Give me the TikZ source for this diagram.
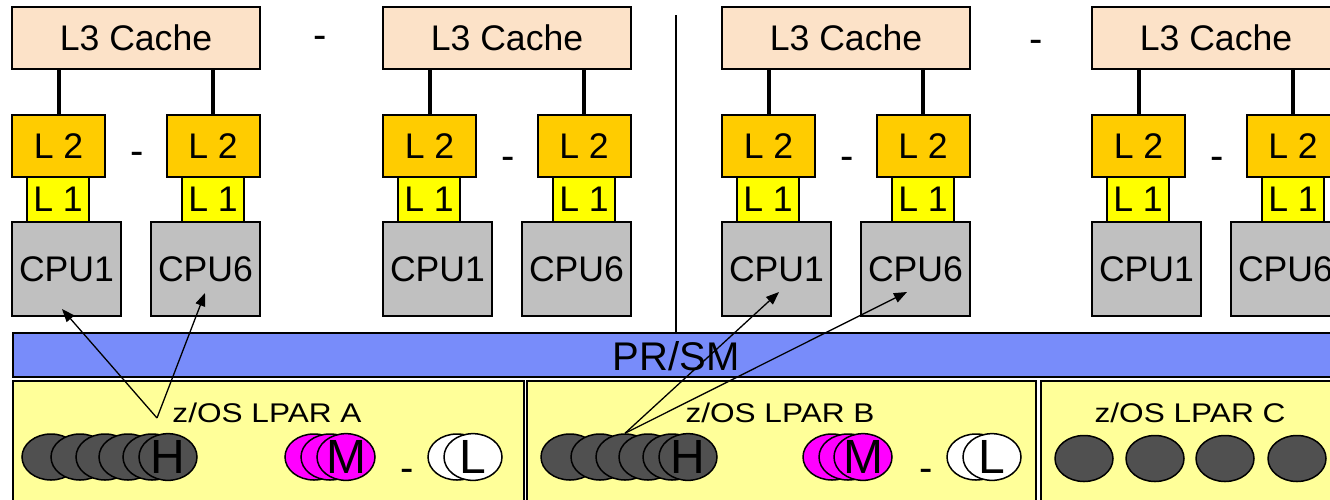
\documentclass[tikz,border=0pt]{standalone}
\usepackage{fontspec}
\setmainfont{Liberation Sans}
\newfontfamily\etire[FakeStretch=1.17]{Liberation Sans}
\usepackage{tikz}
\usetikzlibrary{arrows.meta, shapes.geometric}
\usepackage{xcolor}
\definecolor{peche}{RGB}{252,226,200}
\definecolor{dore}{RGB}{255,204,0}
\definecolor{jaune}{RGB}{255,255,0}
\definecolor{gris}{RGB}{192,192,192}
\definecolor{bleu}{RGB}{120,140,250}
\definecolor{jaunepale}{RGB}{255,255,153}
\definecolor{grisfonce}{RGB}{80,80,80}
\definecolor{rose}{RGB}{255,0,255}
\newcommand{\taille}[1]{\fontsize{#1}{#1}\selectfont}

\begin{document}
\begin{tikzpicture}[x=1pt, y=-1pt,
	boite/.style={draw=black, line width=2pt, inner sep=0pt, font=\taille{35.6}},
	cachetrois/.style={boite, fill=peche, minimum width=248pt, minimum height=62pt},
	cachedeux/.style={boite, fill=dore, minimum width=93pt, minimum height=62pt},
	cacheun/.style={boite, fill=jaune, minimum width=62pt, minimum height=45pt},
	proc/.style={boite, fill=gris, minimum width=109pt, minimum height=94pt},
	lpar/.style={draw=black, line width=1.8pt, fill=jaunepale, inner sep=0pt, anchor=north west, minimum height=130pt},
	tache/.style={ellipse, draw=black, line width=1.5pt, inner sep=0pt, minimum width=58pt, minimum height=46pt, font=\taille{48}},
	tiret/.style={font=\taille{40}, inner sep=0pt},
	fleche/.style={-{Triangle[length=13pt,width=10pt]}, line width=1.3pt},
	lien/.style={line width=4pt}]
	\useasboundingbox (0,0) rectangle (1330,499);
	\clip (0,0) rectangle (1330,499);
	% Caches L3, L2, L1 et processeurs
	\foreach \g/\xo/\yt in {1/12/154, 2/383/159, 3/722/159, 4/1092/159} {
		\node[cachetrois] (l3-\g) at (\xo+124,38) {L3 Cache};
		\node[cachedeux] (l2a-\g) at (\xo+46.5,146) {L 2};
		\node[cachedeux] (l2b-\g) at (\xo+201,146) {L 2};
		\node[cacheun] (l1a-\g) at (\xo+46,199.5) {L 1};
		\node[cacheun] (l1b-\g) at (\xo+201,199.5) {L 1};
		\node[proc] (cpua-\g) at (\xo+54.5,269) {CPU1};
		\node[proc] (cpub-\g) at (\xo+193.5,269) {CPU6};
		\draw[lien] (l2a-\g.north) -- (l2a-\g.north |- l3-\g.south);
		\draw[lien] (l2b-\g.north) -- (l2b-\g.north |- l3-\g.south);
		\node[tiret] (t2-\g) at (\xo+125,\yt+4.6) {-};
	}
	\node[tiret] (t3-1) at (320,42.6) {-};
	\node[tiret] (t3-2) at (1036,46.6) {-};
	% PR/SM et partitions
	\node[draw=black, line width=1.8pt, fill=bleu, inner sep=0pt, anchor=north west,
		minimum width=1340pt, minimum height=44pt] (prsm) at (12,332) {};
	\node[font=\taille{40}] (prsm-txt) at (676,356) {PR/SM};
	\coordinate (sep) at (676,15);
	\draw[line width=1.8pt] (sep) -- (sep |- prsm.north);
	\node[lpar, minimum width=511pt] (lparA) at (12,380) {};
	\node[lpar, minimum width=509pt] (lparB) at (526,380) {};
	\node[lpar, minimum width=400pt] (lparC) at (1040,380) {};
	\node[font=\etire\taille{27}] (txtA) at (267,413) {z/OS LPAR A};
	\node[font=\etire\taille{27}] (txtB) at (780,413) {z/OS LPAR B};
	\node[font=\etire\taille{27}] (txtC) at (1190,413) {z/OS LPAR C};
	% LPAR A
	\foreach \i/\cx in {1/51, 2/80, 3/105, 4/128, 5/152}
		\node[tache, fill=grisfonce] (hA-\i) at (\cx,457) {};
	\node[tache, fill=grisfonce] (hA-6) at (168,457) {H};
	\node[tache, fill=rose] (mA-1) at (314,457) {};
	\node[tache, fill=rose] (mA-2) at (330,457) {};
	\node[tache, fill=rose] (mA-3) at (346,457) {M};
	\node[tiret] (tA) at (407,475) {-};
	\node[tache, fill=white] (bA-1) at (457,457) {};
	\node[tache, fill=white] (bA-2) at (473,457) {L};
	% LPAR B
	\foreach \i/\cx in {1/570, 2/600, 3/625, 4/648, 5/672}
		\node[tache, fill=grisfonce] (hB-\i) at (\cx,457) {};
	\node[tache, fill=grisfonce] (hB-6) at (688,457) {H};
	\node[tache, fill=rose] (mB-1) at (832,457) {};
	\node[tache, fill=rose] (mB-2) at (848,457) {};
	\node[tache, fill=rose] (mB-3) at (863,457) {M};
	\node[tiret] (tB) at (926,475) {-};
	\node[tache, fill=white] (bB-1) at (976,457) {};
	\node[tache, fill=white] (bB-2) at (992,457) {L};
	% LPAR C
	\foreach \i/\cx in {1/1084, 2/1155, 3/1225, 4/1297}
		\node[tache, fill=grisfonce] (hC-\i) at (\cx,458.5) {};
	% Affectation aux processeurs
	\coordinate (vA) at (157,418);
	\coordinate (pA1) at (62,309);
	\coordinate (pA6) at (205,293);
	\coordinate (pB1) at (779,292);
	\coordinate (pB6) at (907,292);
	\draw[fleche] (vA) -- (pA1);
	\draw[fleche] (vA) -- (pA6);
	\draw[fleche] (hB-3.north) -- (pB1);
	\draw[fleche] (hB-3.north) -- (pB6);
\end{tikzpicture}
\end{document}
